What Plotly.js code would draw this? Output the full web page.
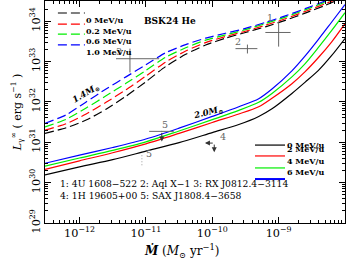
<!DOCTYPE html>
<html><head><meta charset="utf-8">
<script src="https://cdn.plot.ly/plotly-3.0.1.min.js"></script>
<style>html,body{margin:0;padding:0;background:#fff}#plot{width:357px;height:266px}</style>
</head><body><div id="plot"></div>
<script>
// log10(Mdot [Msun/yr]) grids and log10(L [erg/s]) values
const dashedLogMdot = [-12.52,-12.2,-11.9,-11.6,-11.3,-11.0,-10.7,-10.4,-10.1,-9.8,-9.5,-9.2,-8.9,-8.6,-8.3,-8.0];
const dashed0   = [31.22,31.36,31.55,31.82,32.14,32.50,32.88,33.18,33.41,33.58,33.72,33.86,34.02,34.20,34.39,34.60];
const dashed02  = [31.30,31.46,31.70,31.99,32.30,32.64,32.99,33.26,33.47,33.62,33.75,33.90,34.06,34.24,34.43,34.63];
const dashed06  = [31.38,31.57,31.85,32.15,32.46,32.78,33.11,33.34,33.53,33.66,33.79,33.94,34.10,34.28,34.47,34.67];
const dashed10  = [31.47,31.68,32.00,32.32,32.62,32.92,33.22,33.42,33.58,33.70,33.82,33.97,34.13,34.31,34.50,34.70];
const dashedNames = ['0 MeV/u','0.2 MeV/u','0.6 MeV/u','1.0 MeV/u'];

const solidLogMdot = [-12.52,-12.0,-11.5,-11.0,-10.5,-10.0,-9.6,-9.3,-9.1,-8.8,-8.6,-8.4,-8.2,-8.0];
const solid0 = [30.19,30.39,30.57,30.78,30.99,31.24,31.44,31.64,31.83,32.21,32.49,32.78,33.15,33.57];
const solid2 = [30.33,30.54,30.74,30.96,31.22,31.49,31.70,31.88,32.09,32.45,32.75,33.10,33.49,33.94];
const solid4 = [30.41,30.61,30.80,31.01,31.28,31.56,31.79,31.99,32.21,32.62,32.95,33.35,33.77,34.21];
const solid6 = [30.48,30.68,30.87,31.08,31.35,31.64,31.88,32.08,32.32,32.77,33.14,33.55,33.98,34.41];
const solidNames = ['0 MeV/u','2 MeV/u','4 MeV/u','6 MeV/u'];

const colors = ['#000000','#ff0000','#00ee00','#0000ff'];

// observations with error ranges (log10 values)
const obsLabels = ['1','2','3'];
const obsLogM   = [-9.00,-9.47,-11.24];
const obsLogMlo = [-9.20,-9.65,-11.45];
const obsLogMhi = [-8.82,-9.32,-10.80];
const obsLogL   = [33.72,33.32,33.07];
const obsLogLlo = [33.37,33.20,32.73];
const obsLogLhi = [33.99,33.42,33.32];

// upper limit source 5
const lim5LogM = -10.76, lim5LogMlo = -10.95, lim5LogMhi = -10.58, lim5LogL = 31.27, lim5LogLto = 31.02;
// upper limit source 4 (both axes)
const lim4LogM = -9.97, lim4LogMto = -10.11, lim4LogL = 30.98, lim4LogLto = 30.75;
// source 5 alternative range (dotted)
const alt5LogM = [-11.06,-11.06], alt5LogL = [30.43,30.73];

const p = v => Math.pow(10, v);
const obsColor = '#666666';
const FONT = 'DejaVu Serif';

const traces = [];
const dashedSets = [dashed0,dashed02,dashed06,dashed10];
dashedSets.forEach((s,i)=>traces.push({x:dashedLogMdot.map(p), y:s.map(p), mode:'lines', name:dashedNames[i],
  line:{color:colors[i], width:1.2, dash:'9px,4px', shape:'spline', smoothing:0.6}, showlegend:false, hoverinfo:'skip'}));
const solidSets = [solid0,solid2,solid4,solid6];
solidSets.forEach((s,i)=>traces.push({x:solidLogMdot.map(p), y:s.map(p), mode:'lines', name:solidNames[i],
  line:{color:colors[i], width:1.2, shape:'spline', smoothing:0.8}, showlegend:false, hoverinfo:'skip'}));

traces.push({x:obsLogM.map(p), y:obsLogL.map(p), mode:'markers', marker:{size:1,color:obsColor}, showlegend:false,
  error_x:{type:'data', symmetric:false, array:obsLogM.map((v,i)=>p(obsLogMhi[i])-p(v)), arrayminus:obsLogM.map((v,i)=>p(v)-p(obsLogMlo[i])), width:0, thickness:1, color:obsColor},
  error_y:{type:'data', symmetric:false, array:obsLogL.map((v,i)=>p(obsLogLhi[i])-p(v)), arrayminus:obsLogL.map((v,i)=>p(v)-p(obsLogLlo[i])), width:0, thickness:1, color:obsColor}});
traces.push({x:[p(lim5LogM)], y:[p(lim5LogL)], mode:'markers', marker:{size:1,color:obsColor}, showlegend:false,
  error_x:{type:'data', symmetric:false, array:[p(lim5LogMhi)-p(lim5LogM)], arrayminus:[p(lim5LogM)-p(lim5LogMlo)], width:0, thickness:1, color:obsColor}});
traces.push({x:alt5LogM.map(p), y:alt5LogL.map(p), mode:'lines', line:{color:'#999999', width:1, dash:'1px,2px'}, showlegend:false});

const ann = [];
const lblShift = [[-9,15],[-9,7],[-11,7]];
obsLabels.forEach((t,i)=>ann.push({x:obsLogM[i], y:obsLogL[i], text:t, showarrow:false, xshift:lblShift[i][0], yshift:lblShift[i][1], font:{family:FONT,size:9.5,color:obsColor}}));
ann.push({x:lim5LogM, y:lim5LogL, text:'5', showarrow:false, xshift:3, yshift:7, font:{family:FONT,size:9.5,color:obsColor}});
ann.push({x:lim4LogM, y:lim4LogL, text:'4', showarrow:false, xshift:9, yshift:7, font:{family:FONT,size:9.5,color:obsColor}});
ann.push({x:alt5LogM[1], y:alt5LogL[1], text:'5', showarrow:false, xshift:7, yshift:0, font:{family:FONT,size:9.5,color:obsColor}});
const arrowStyle = {showarrow:true, text:'', axref:'x', ayref:'y', arrowhead:2, arrowsize:1, arrowwidth:1, arrowcolor:'#333'};
ann.push(Object.assign({x:lim5LogM, y:lim5LogLto, ax:lim5LogM, ay:lim5LogL}, arrowStyle));
ann.push(Object.assign({x:lim4LogMto, y:lim4LogL, ax:lim4LogM, ay:lim4LogL}, arrowStyle));
ann.push(Object.assign({x:lim4LogM, y:lim4LogLto, ax:lim4LogM, ay:lim4LogL}, arrowStyle));

// text labels
ann.push({xref:'paper', yref:'paper', x:0.417, y:0.941, text:'<b>BSK24 He</b>', showarrow:false, font:{family:FONT,size:9,color:'#000'}});
ann.push({xref:'paper', yref:'paper', x:0.075, y:0.585, text:'<b><i>1.4M</i><sub>⊙</sub></b>', textangle:-30, showarrow:false, font:{family:FONT,size:8.5,color:'#000'}});
ann.push({xref:'paper', yref:'paper', x:0.543, y:0.497, text:'<b><i>2.0M</i><sub>⊙</sub></b>', textangle:-14, showarrow:false, font:{family:FONT,size:8.5,color:'#000'}});
ann.push({xref:'paper', yref:'paper', x:0.043, y:0.144, xanchor:'left', text:'1: 4U 1608−522 2: Aql X−1 3: RX J0812.4−3114', showarrow:false, font:{family:FONT,size:9.2,color:'#000'}});
ann.push({xref:'paper', yref:'paper', x:0.043, y:0.090, xanchor:'left', text:'4: 1H 19605+00 5: SAX J1808.4−3658', showarrow:false, font:{family:FONT,size:9.2,color:'#000'}});
// x-axis title (placed as in the reference, slightly left of centre)
ann.push({xref:'paper', yref:'paper', x:0.457, y:-0.125, yanchor:'middle', text:'<b><i>Ṁ</i></b> (<i>M</i><sub>⊙</sub> yr<sup>−1</sup>)', showarrow:false, font:{family:FONT,size:12,color:'#000'}});

// manual legends
const shapes = [];
const dashRows = [0.946,0.896,0.851,0.802];
dashedNames.forEach((n,i)=>{
  shapes.push({type:'line', xref:'paper', yref:'paper', x0:0.043, x1:0.133, y0:dashRows[i], y1:dashRows[i], line:{color:colors[i], width:1.2, dash:'9px,4px'}});
  ann.push({xref:'paper', yref:'paper', x:0.133, y:dashRows[i], xanchor:'left', text:'<b>'+n+'</b>', showarrow:false, xshift:-1, font:{family:FONT,size:8,color:'#000'}});
});
const solidRows = [0.351,0.302,0.248,0.198];
solidNames.forEach((n,i)=>{
  shapes.push({type:'line', xref:'paper', yref:'paper', x0:0.70, x1:0.80, y0:solidRows[i], y1:solidRows[i], line:{color:colors[i], width:i===3?2:1.2}});
  ann.push({xref:'paper', yref:'paper', x:0.80, y:solidRows[i], xanchor:'left', text:'<b>'+n+'</b>', showarrow:false, xshift:0, font:{family:FONT,size:8,color:'#000'}});
});

const axisCommon = {type:'log', dtick:1, exponentformat:'power', showgrid:false, zeroline:false,
  ticks:'inside', ticklen:6, tickwidth:1, tickcolor:'#000', showline:true, linecolor:'#000', linewidth:1, mirror:'allticks',
  minor:{ticks:'inside', ticklen:3, tickcolor:'#000', showgrid:false},
  tickfont:{family:FONT, size:9, color:'#000'}};

const layout = {
  width:357, height:266, margin:{l:45, r:12, t:1, b:43},
  paper_bgcolor:'#fff', plot_bgcolor:'#fff', showlegend:false,
  xaxis:Object.assign({}, axisCommon, {range:[-12.52,-8.0]}),
  yaxis:Object.assign({}, axisCommon, {range:[29,34.5], tickangle:-90,
    title:{text:'<i>L</i><sub>γ</sub><sup>∞</sup> ( erg s<sup>−1</sup> )', font:{family:FONT,size:11,color:'#000'}, standoff:4}}),
  annotations:ann, shapes:shapes
};
Plotly.newPlot('plot', traces, layout, {staticPlot:true, displayModeBar:false});
</script></body></html>
